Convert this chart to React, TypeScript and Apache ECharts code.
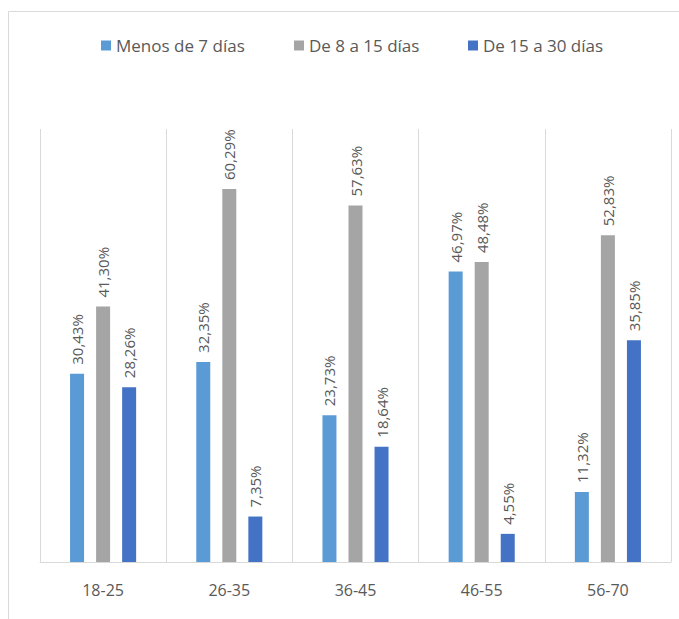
import React, { useEffect, useRef } from "react";
import * as echarts from "echarts";

const categories = ["18-25", "26-35", "36-45", "46-55", "56-70"];
const seriesNames = ["Menos de 7 días", "De 8 a 15 días", "De 15 a 30 días"];
const menos7 = [30.43, 32.35, 23.73, 46.97, 11.32];
const de8a15 = [41.3, 60.29, 57.63, 48.48, 52.83];
const de15a30 = [28.26, 7.35, 18.64, 4.55, 35.85];
const colors = ["#5B9BD5", "#A5A5A5", "#4472C4"];
const legendLefts = [96, 289, 463];

const fmt = (v: number) => v.toFixed(2).replace(".", ",") + "%";

export default function App() {
  const ref = useRef<HTMLDivElement>(null);
  useEffect(() => {
    if (!ref.current) return;
    const chart = echarts.init(ref.current, undefined, { renderer: "svg" });
    const mk = (name: string, data: number[], color: string) => ({
      name,
      type: "bar",
      data,
      barWidth: 14,
      barGap: "86%",
      itemStyle: { color },
      label: {
        show: true,
        position: "top",
        rotate: 90,
        align: "left",
        verticalAlign: "middle",
        distance: 9,
        color: "#595959",
        fontSize: 15,
        fontFamily: "Open Sans",
        formatter: (p: any) => fmt(p.value),
      },
    });
    chart.setOption({
      animation: false,
      backgroundColor: "#ffffff",
      textStyle: { fontFamily: "Open Sans" },
      graphic: [
        {
          type: "rect",
          shape: { x: 8.5, y: 11.5, width: 700, height: 700 },
          style: { fill: "none", stroke: "#d9d9d9", lineWidth: 1 },
          silent: true,
        },
      ],
      legend: seriesNames.map((n, i) => ({
        left: legendLefts[i],
        top: 32,
        itemWidth: 10,
        itemHeight: 10,
        itemGap: 30,
        icon: "rect",
        textStyle: { color: "#595959", fontSize: 17, fontFamily: "Open Sans" },
        data: [n],
      })),
      grid: { left: 40, right: 8, top: 129, bottom: 57, containLabel: false },
      xAxis: {
        type: "category",
        data: categories,
        axisLine: { show: true, lineStyle: { color: "#d9d9d9", width: 1 } },
        axisTick: { show: false },
        splitLine: { show: true, interval: 0, lineStyle: { color: "#d9d9d9", width: 1 } },
        axisLabel: { color: "#595959", fontSize: 16, margin: 20, fontFamily: "Open Sans" },
      },
      yAxis: {
        type: "value",
        min: 0,
        max: 70,
        show: false,
        splitLine: { show: false },
      },
      series: [
        mk(seriesNames[0], menos7, colors[0]),
        mk(seriesNames[1], de8a15, colors[1]),
        mk(seriesNames[2], de15a30, colors[2]),
      ],
    });
    return () => chart.dispose();
  }, []);
  return (
    <div
      ref={ref}
      style={{ position: "absolute", left: 0, top: 0, width: 679, height: 619 }}
    />
  );
}
